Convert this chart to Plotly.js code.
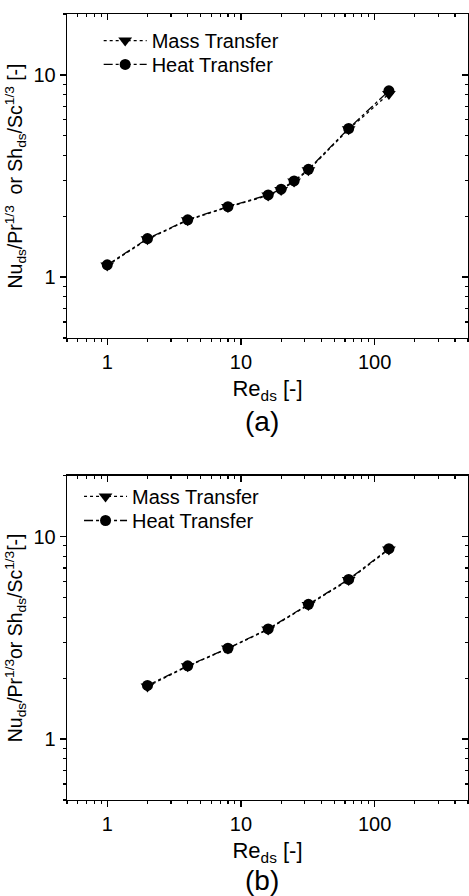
<!DOCTYPE html>
<html>
<head>
<meta charset="utf-8">
<script src="https://cdn.plot.ly/plotly-3.0.1.min.js"></script>
<style>
  html, body { margin: 0; padding: 0; background: #fff; }
  #chart { width: 469px; height: 896px; }
</style>
</head>
<body>
<div id="chart"></div>
<script>
// Panel (a): Reynolds numbers and scaled Nusselt / Sherwood numbers
const reA = [1, 2, 4, 8, 16, 20, 25, 32, 64, 128];
const massA = [1.14, 1.54, 1.91, 2.22, 2.53, 2.70, 2.97, 3.38, 5.38, 8.05];
const heatA = [1.15, 1.55, 1.92, 2.23, 2.55, 2.72, 2.99, 3.41, 5.43, 8.34];

// Panel (b)
const reB = [2, 4, 8, 16, 32, 64, 128];
const massB = [1.82, 2.29, 2.80, 3.48, 4.60, 6.10, 8.65];
const heatB = [1.84, 2.30, 2.81, 3.50, 4.63, 6.15, 8.72];

const seriesNames = ['Mass Transfer', 'Heat Transfer'];
const panelLabels = ['(a)', '(b)'];
const yTitleA = 'Nu<sub>ds</sub>/Pr<sup>1/3</sup>  or Sh<sub>ds</sub>/Sc<sup>1/3</sup> [-]';
const yTitleB = 'Nu<sub>ds</sub>/Pr<sup>1/3</sup>or Sh<sub>ds</sub>/Sc<sup>1/3</sup>[-]';
const xTitle = 'Re<sub>ds</sub> [-]';

const FONT = 'Liberation Sans, Arial, sans-serif';
const xRange = [Math.log10(0.5), Math.log10(500)];
const yRange = [Math.log10(0.5), Math.log10(20)];

function massTrace(x, y, xa, ya, legend) {
  return {
    x: x, y: y, xaxis: xa, yaxis: ya, legend: legend,
    name: seriesNames[0], type: 'scatter', mode: 'lines+markers',
    line: { color: '#000', width: 1.3, dash: 'dot' },
    marker: { symbol: 'triangle-down', size: 12, color: '#000' }
  };
}
function heatTrace(x, y, xa, ya, legend) {
  return {
    x: x, y: y, xaxis: xa, yaxis: ya, legend: legend,
    name: seriesNames[1], type: 'scatter', mode: 'lines+markers',
    line: { color: '#000', width: 1.3, dash: 'dashdot' },
    marker: { symbol: 'circle', size: 11, color: '#000' }
  };
}
// Empty trace that makes the top/right frame axes render
function frameTrace(xa, ya) {
  return { x: [], y: [], xaxis: xa, yaxis: ya, type: 'scatter', mode: 'lines',
           showlegend: false, hoverinfo: 'skip' };
}

const data = [
  massTrace(reA, massA, 'x', 'y', 'legend'),
  heatTrace(reA, heatA, 'x', 'y', 'legend2'),
  massTrace(reB, massB, 'x2', 'y2', 'legend3'),
  heatTrace(reB, heatB, 'x2', 'y2', 'legend4'),
  frameTrace('x3', 'y3'),
  frameTrace('x4', 'y4')
];

const domA = [0.5878, 1];
const domB = [0, 0.4126];

// Main axes: outward ticks with labels
function mainX(anchor) {
  return {
    type: 'log', range: xRange, anchor: anchor, domain: [0, 1],
    showgrid: false, zeroline: false, showline: true, linecolor: '#000', linewidth: 1.3,
    ticks: 'outside', ticklen: 6, tickwidth: 1.3, tickcolor: '#000', dtick: 1,
    minor: { ticks: 'outside', ticklen: 3, tickwidth: 1.2, tickcolor: '#000', dtick: 'D1', showgrid: false },
    tickfont: { family: FONT, size: 20, color: '#000' },
    title: { text: xTitle, font: { family: FONT, size: 22, color: '#000' }, standoff: 8 },
    automargin: false
  };
}
function mainY(anchor, dom, title) {
  return {
    type: 'log', range: yRange, anchor: anchor, domain: dom,
    showgrid: false, zeroline: false, showline: true, linecolor: '#000', linewidth: 1.3,
    ticks: 'outside', ticklen: 6, tickwidth: 1.3, tickcolor: '#000', dtick: 1,
    minor: { ticks: 'outside', ticklen: 3, tickwidth: 1.2, tickcolor: '#000', dtick: 'D1', showgrid: false },
    tickfont: { family: FONT, size: 20, color: '#000' },
    title: { text: title, font: { family: FONT, size: 19.5, color: '#000' }, standoff: 5 },
    automargin: false
  };
}
// Frame axes on top / right: inward ticks, no labels
function frameX(over, anchor) {
  return {
    type: 'log', range: xRange, overlaying: over, anchor: anchor, side: 'top',
    showgrid: false, zeroline: false, showline: true, linecolor: '#000', linewidth: 1.3,
    ticks: 'inside', ticklen: 6, tickwidth: 1.3, tickcolor: '#000', dtick: 1,
    minor: { ticks: 'inside', ticklen: 3, tickwidth: 1.2, tickcolor: '#000', dtick: 'D1', showgrid: false },
    showticklabels: false
  };
}
function frameY(over, anchor, dom) {
  return {
    type: 'log', range: yRange, overlaying: over, anchor: anchor, side: 'right', domain: dom,
    showgrid: false, zeroline: false, showline: true, linecolor: '#000', linewidth: 1.3,
    ticks: 'inside', ticklen: 6, tickwidth: 1.3, tickcolor: '#000', dtick: 1,
    minor: { ticks: 'inside', ticklen: 3, tickwidth: 1.2, tickcolor: '#000', dtick: 'D1', showgrid: false },
    showticklabels: false
  };
}

function legendAt(x, y) {
  return {
    font: { family: FONT, size: 20, color: '#000' },
    bgcolor: 'rgba(0,0,0,0)', borderwidth: 0,
    xanchor: 'left', yanchor: 'top', itemwidth: 43,
    x: x, y: y
  };
}

const layout = {
  width: 469, height: 896,
  margin: { l: 67, r: 1, t: 14, b: 96 },
  paper_bgcolor: '#fff', plot_bgcolor: '#fff',
  font: { family: FONT, color: '#000' },
  xaxis: mainX('y'),
  yaxis: mainY('x', domA, yTitleA),
  xaxis2: mainX('y2'),
  yaxis2: mainY('x2', domB, yTitleB),
  xaxis3: frameX('x', 'y'),
  yaxis3: frameY('y', 'x', domA),
  xaxis4: frameX('x2', 'y2'),
  yaxis4: frameY('y2', 'x2', domB),
  legend: legendAt(0.079, 0.991),
  legend2: legendAt(0.079, 0.9606),
  legend3: legendAt(0.030, 0.411),
  legend4: legendAt(0.030, 0.3804),
  annotations: [
    { text: panelLabels[0], xref: 'paper', yref: 'paper', x: 0.487, y: 0.481,
      xanchor: 'center', yanchor: 'middle', showarrow: false,
      font: { family: FONT, size: 28, color: '#000' } },
    { text: panelLabels[1], xref: 'paper', yref: 'paper', x: 0.487, y: -0.103,
      xanchor: 'center', yanchor: 'middle', showarrow: false,
      font: { family: FONT, size: 28, color: '#000' } }
  ],
  showlegend: true
};

Plotly.newPlot('chart', data, layout, { staticPlot: true, displayModeBar: false });
</script>
</body>
</html>
